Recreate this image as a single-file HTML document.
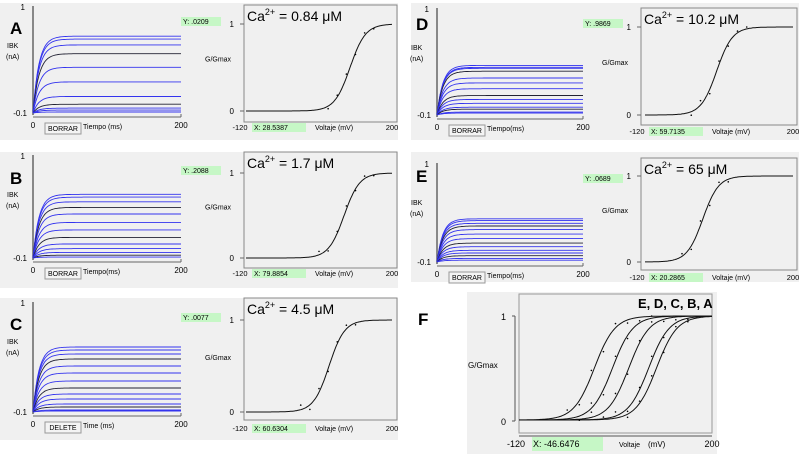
<!DOCTYPE html>
<html><head><meta charset="utf-8"><style>
html,body{margin:0;padding:0;background:#fff}
svg{display:block;font-family:"Liberation Sans",sans-serif}
</style></head><body>
<svg id="fig" width="799" height="454" viewBox="0 0 799 454"></svg>
<script>
// ---- data ----
const panelLabels = ["A","B","C","D","E"];
const caLabels = ["0.84","1.7","4.5","10.2","65"];
const yReadouts = ["Y: .0209","Y: .2088","Y: .0077","Y: .9869","Y: .0689"];
const xReadouts = ["X: 28.5387","X: 79.8854","X: 60.6304","X: 59.7135","X: 20.2865"];
const buttonLabels = ["BORRAR","BORRAR","DELETE","BORRAR","BORRAR"];
const timeLabels = ["Tiempo (ms)","Tiempo(ms)","Time (ms)","Tiempo(ms)","Tiempo(ms)"];
const levelsA = [0.69,0.66,0.60,0.51,0.37,0.22,0.07,-0.01,-0.05,-0.07,-0.09];
const levelsB = [0.58,0.55,0.50,0.44,0.37,0.28,0.20,0.12,0.05,0.0,-0.04,-0.07,-0.09];
const levelsC = [0.55,0.52,0.48,0.43,0.36,0.29,0.21,0.14,0.08,0.03,-0.02,-0.05,-0.08,-0.09];
const levelsD = [0.41,0.39,0.38,0.35,0.28,0.23,0.17,0.10,0.06,0.02,-0.02,-0.04,-0.07,-0.08];
const levelsE = [0.38,0.36,0.33,0.30,0.26,0.21,0.16,0.11,0.07,0.03,0.0,-0.03,-0.06,-0.08];
const v50 = [108,95,62,35,5];       // mV, A..E
const slopeK = [17,17,17,17,17];    // mV
const dotV = [-40,-20,0,20,40,60,80,100,120,140,160];
const dotOffset = [0.03,-0.04,0.05,-0.05,0.04,-0.03,0.02,0.04,-0.02,0.03,-0.01];
// ---- layout ----
const L = [
 {bg:[0,3,398,137],lab:[10,34],ax:33,y1:6,y0:113,xe:181,rb:[244,5,397,122],r1:24,r0:111,rx0:246,rx1:392,xl:130},
 {bg:[0,152,398,136],lab:[10,184],ax:33,y1:155,y0:258,xe:181,rb:[244,152,397,268],r1:173,r0:258,rx0:246,rx1:392,xl:276},
 {bg:[0,298,398,142],lab:[10,330],ax:33,y1:302,y0:412,xe:181,rb:[244,298,397,420],r1:320,r0:412,rx0:246,rx1:392,xl:431},
 {bg:[411,3,388,137],lab:[416,30],ax:437,y1:8,y0:115,xe:583,rb:[641,8,797,125],r1:27,r0:115,rx0:645,rx1:793,xl:134},
 {bg:[411,152,388,130],lab:[416,182],ax:437,y1:163,y0:262,xe:583,rb:[641,158,797,270],r1:176,r0:262,rx0:645,rx1:793,xl:280}
];
const levels=[levelsA,levelsB,levelsC,levelsD,levelsE];
const S="http://www.w3.org/2000/svg", svg=document.getElementById('fig');
function el(t,a,p){const e=document.createElementNS(S,t);for(const k in a)e.setAttribute(k,a[k]);(p||svg).appendChild(e);return e;}
function tx(x,y,s,size,extra,p){const e=el('text',Object.assign({x:x,y:y,'font-size':size||8,fill:'#000'},extra||{}),p);e.textContent=s;return e;}
const boltz=(v,h,k)=>1/(1+Math.exp(-(v-h)/k));

for(let i=0;i<5;i++){
 const c=L[i];
 const g=el('g',{});
 
 
 el('rect',{x:c.bg[0],y:c.bg[1],width:c.bg[2],height:c.bg[3],fill:'#f0f0f0'},g);
 const pl=tx(c.lab[0],c.lab[1],panelLabels[i],17,{'font-weight':'bold'},g);
 
 const yS=v=>c.y0-(v+0.1)/1.1*(c.y0-c.y1);
 const xS=t=>c.ax+t/200*(c.xe-c.ax);
 el('line',{x1:c.ax,y1:c.y1,x2:c.ax,y2:c.y0+2,stroke:'#666','stroke-width':1.5},g);
 el('line',{x1:c.ax,y1:c.y0+4,x2:c.xe,y2:c.y0+4,stroke:'#666','stroke-width':1},g);
 el('line',{x1:c.xe,y1:c.y0+1,x2:c.xe,y2:c.y0+4,stroke:'#666'},g);
 tx(c.ax-8,c.y1+4,'1',8,{'text-anchor':'end'},g);
 tx(c.ax-6,c.y0+3,'-0.1',8,{'text-anchor':'end'},g);
 tx(c.ax-26,c.y1+42,'IBK',7,{},g);tx(c.ax-27,c.y1+53,'(nA)',7,{},g);
 tx(c.ax,c.y0+15,'0',8,{'text-anchor':'middle'},g);
 tx(c.xe,c.y0+15,'200',8,{'text-anchor':'middle'},g);
 tx(c.ax+50,c.y0+16,timeLabels[i],7,{},g);
 const b=el('rect',{x:c.ax+12,y:c.y0+10,width:36,height:11,fill:'#f4f4f4',stroke:'#999'},g);
 
 tx(c.ax+30,c.y0+18,buttonLabels[i],7,{'text-anchor':'middle'},g);
 levels[i].forEach((lv,j)=>{let d='';for(let t=0;t<=200;t+=2){const v=-0.1+(lv+0.1)*(1-Math.exp(-t/8));d+=(t?'L':'M')+xS(t).toFixed(1)+','+yS(v).toFixed(1);}
  const p=el('path',{d:d,fill:'none',stroke:j%4==3?'#223':'#3333ee','stroke-width':0.9},g);
  });
 const yr=el('rect',{x:c.xe,y:c.y1+11,width:40,height:9,fill:'#c6f7c6'},g);
 
 tx(c.xe+2,c.y1+18,yReadouts[i],7,{},g);
 const rb=c.rb;
 el('rect',{x:rb[0],y:rb[1],width:rb[2]-rb[0],height:rb[3]-rb[1],fill:'none',stroke:'#888'},g);
 const gy=v=>c.r0-v*(c.r0-c.r1), vx=v=>c.rx0+(v+120)/320*(c.rx1-c.rx0);
 tx(rb[0]-10,c.r1+3,'1',8,{'text-anchor':'end'},g);tx(rb[0]-10,c.r0+3,'0',8,{'text-anchor':'end'},g);
 el('line',{x1:rb[0]-4,y1:c.r1,x2:rb[0],y2:c.r1,stroke:'#666'},g);el('line',{x1:rb[0]-4,y1:c.r0,x2:rb[0],y2:c.r0,stroke:'#666'},g);
 tx(rb[0]-39,(c.r0+c.r1)/2-6,'G/Gmax',7,{},g);
 tx(rb[0]-4,c.xl,'-120',7.5,{'text-anchor':'middle'},g);tx(c.rx1,c.xl,'200',7.5,{'text-anchor':'middle'},g);
 const xr=el('rect',{x:rb[0]+8,y:c.xl-7,width:54,height:9,fill:'#c6f7c6'},g);
 
 tx(rb[0]+10,c.xl,xReadouts[i],7,{},g);
 tx(rb[0]+71,c.xl,'Voltaje (mV)',7,{},g);
 const ct=el('text',{x:rb[0]+3,y:rb[1]+16,'font-size':14,fill:'#000'},g);
 ct.innerHTML='Ca<tspan font-size="9" dy="-6">2+</tspan><tspan dy="6"> = '+caLabels[i]+' μM</tspan>';
 
 let d='';for(let v=-120;v<=200;v+=2)d+=(v>-120?'L':'M')+vx(v).toFixed(1)+','+gy(boltz(v,v50[i],slopeK[i])).toFixed(1);
 const cv=el('path',{d:d,fill:'none',stroke:'#111','stroke-width':1},g);
 
 dotV.forEach((v,j)=>{const val=boltz(v,v50[i],slopeK[i]);if(val<0.02||val>0.98)return;
  const dt=el('circle',{cx:vx(v),cy:gy(Math.min(1,val+dotOffset[j])),r:0.8,fill:'#000'},g);
  });
}
// panel F
const gF=el('g',{});
el('rect',{x:467,y:292,width:250,height:162,fill:'#f0f0f0'},gF);
el('rect',{x:519,y:294,width:193,height:139,fill:'none',stroke:'#999'},gF);
tx(418,325,'F',17,{'font-weight':'bold'},gF);
const fy=v=>420-v*(420-316), fx=v=>519+(v+120)/320*193;
el('line',{x1:515,y1:316,x2:515,y2:421,stroke:'#555'},gF);
el('line',{x1:512,y1:316,x2:515,y2:316,stroke:'#555'},gF);el('line',{x1:512,y1:421,x2:515,y2:421,stroke:'#555'},gF);
tx(506,320,'1',9,{'text-anchor':'end'},gF);tx(506,425,'0',9,{'text-anchor':'end'},gF);
tx(468,368,'G/Gmax',8,{},gF);
el('line',{x1:519,y1:436,x2:712,y2:436,stroke:'#555'},gF);
tx(516,447,'-120',9,{'text-anchor':'middle'},gF);tx(712,447,'200',9,{'text-anchor':'middle'},gF);
const fr=el('rect',{x:532,y:437,width:71,height:14,fill:'#c6f7c6'},gF);

tx(533,447,'X: -46.6476',9,{},gF);tx(619,447,'Voltaje',7,{},gF);tx(648,447,'(mV)',8,{},gF);
tx(638,308,'E, D, C, B, A',13,{'font-weight':'bold'},gF);
for(let i=0;i<5;i++){let d='';for(let v=-120;v<=200;v+=2)d+=(v>-120?'L':'M')+fx(v).toFixed(1)+','+fy(boltz(v,v50[i],slopeK[i])).toFixed(1);
 const p=el('path',{d:d,fill:'none',stroke:'#111','stroke-width':1},gF);
 
 dotV.forEach((v,j)=>{const val=boltz(v,v50[i],slopeK[i]);if(val<0.02||val>0.98)return;
  const dt=el('circle',{cx:fx(v),cy:fy(Math.min(1,val+dotOffset[j])),r:0.8,fill:'#000'},gF);
  });}
</script>
</body></html>
